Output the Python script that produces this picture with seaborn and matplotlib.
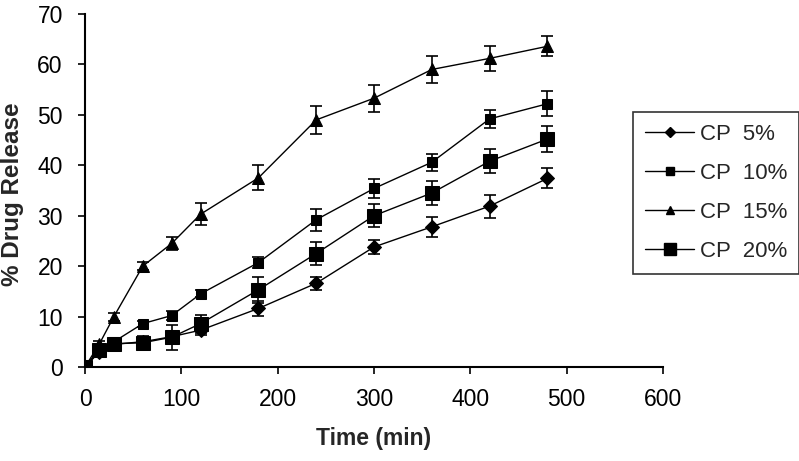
import matplotlib
matplotlib.use("Agg")
import matplotlib.pyplot as plt
import seaborn as sns
import pandas as pd
from matplotlib.lines import Line2D

time_min = [0, 15, 30, 60, 90, 120, 180, 240, 300, 360, 420, 480]
series_names = ["CP  5%", "CP  10%", "CP  15%", "CP  20%"]
cp5 = [0, 3.0, 4.5, 5.0, 6.0, 7.3, 11.6, 16.6, 23.8, 27.8, 31.9, 37.4]
cp10 = [0, 3.6, 5.0, 8.6, 10.2, 14.5, 20.7, 29.2, 35.4, 40.6, 49.2, 52.2]
cp15 = [0, 4.6, 10.0, 20.0, 24.5, 30.3, 37.5, 49.0, 53.3, 59.0, 61.2, 63.6]
cp20 = [0, 3.3, 4.6, 4.8, 5.9, 8.6, 15.3, 22.5, 30.0, 34.5, 40.8, 45.2]
err5 = [0, 0.5, 0.5, 0.6, 0.8, 1.0, 1.5, 1.3, 1.3, 2.0, 2.3, 2.0]
err10 = [0, 0.5, 0.6, 0.6, 0.8, 0.7, 1.1, 2.2, 1.8, 1.7, 1.8, 2.5]
err15 = [0, 0.6, 0.8, 0.8, 1.3, 2.2, 2.5, 2.7, 2.7, 2.6, 2.5, 2.0]
err20 = [0, 0.8, 1.0, 1.4, 2.5, 1.8, 2.6, 2.2, 2.3, 2.4, 2.4, 2.5]

values = [cp5, cp10, cp15, cp20]
errors = [err5, err10, err15, err20]
markers = ["D", "s", "^", "s"]
msizes = [7, 6.5, 8, 10]

rows = []
for name, vals in zip(series_names, values):
    for t, v in zip(time_min, vals):
        rows.append({"Time": t, "Release": v, "Series": name})
df = pd.DataFrame(rows)

sns.set_style("ticks")
plt.rcParams["font.family"] = ["Liberation Sans", "DejaVu Sans"]

fig = plt.figure(figsize=(7.99, 4.61), dpi=100)
ax = fig.add_axes([0.1064, 0.204, 0.7234, 0.7656])

handles = []
for name, vals, errs, mk, ms in zip(series_names, values, errors, markers, msizes):
    sub = df[df["Series"] == name]
    sns.lineplot(data=sub, x="Time", y="Release", ax=ax, color="black",
                 linewidth=1.0, marker=mk, markersize=ms, markeredgecolor="black",
                 markerfacecolor="black", legend=False)
    ax.errorbar(time_min, vals, yerr=errs, fmt="none", ecolor="black",
                elinewidth=1.2, capsize=4.5, capthick=1.2)
    handles.append(Line2D([0], [0], color="black", linewidth=1.0, marker=mk,
                          markersize=ms * 0.8, markerfacecolor="black",
                          markeredgecolor="black"))

ax.set_xlim(0, 600)
ax.set_ylim(0, 70)
ax.set_xticks(range(0, 601, 100))
ax.set_yticks(range(0, 71, 10))
ax.tick_params(axis="both", labelsize=16.5, length=5, width=1.2, colors="black")
ax.tick_params(axis="y", pad=11)
ax.tick_params(axis="x", pad=10)
for s in ["left", "bottom"]:
    ax.spines[s].set_linewidth(1.5)
    ax.spines[s].set_color("black")
sns.despine(ax=ax)
ax.set_xlabel("Time (min)", fontsize=16.5, fontweight="bold", labelpad=12)
ax.set_ylabel("% Drug Release", fontsize=17.5, fontweight="bold")
ax.yaxis.set_label_coords(-0.1055, 0.489)

leg = fig.legend(handles, series_names, loc="upper left",
                 bbox_to_anchor=(633 / 799, 1 - 112 / 461), fontsize=16,
                 frameon=True, fancybox=False, edgecolor="black",
                 handlelength=2.2, handletextpad=0.25, labelspacing=0.8,
                 borderpad=0.55, borderaxespad=0)
leg.get_frame().set_linewidth(1.2)

fig.savefig("out.png", dpi=100, facecolor="white")
